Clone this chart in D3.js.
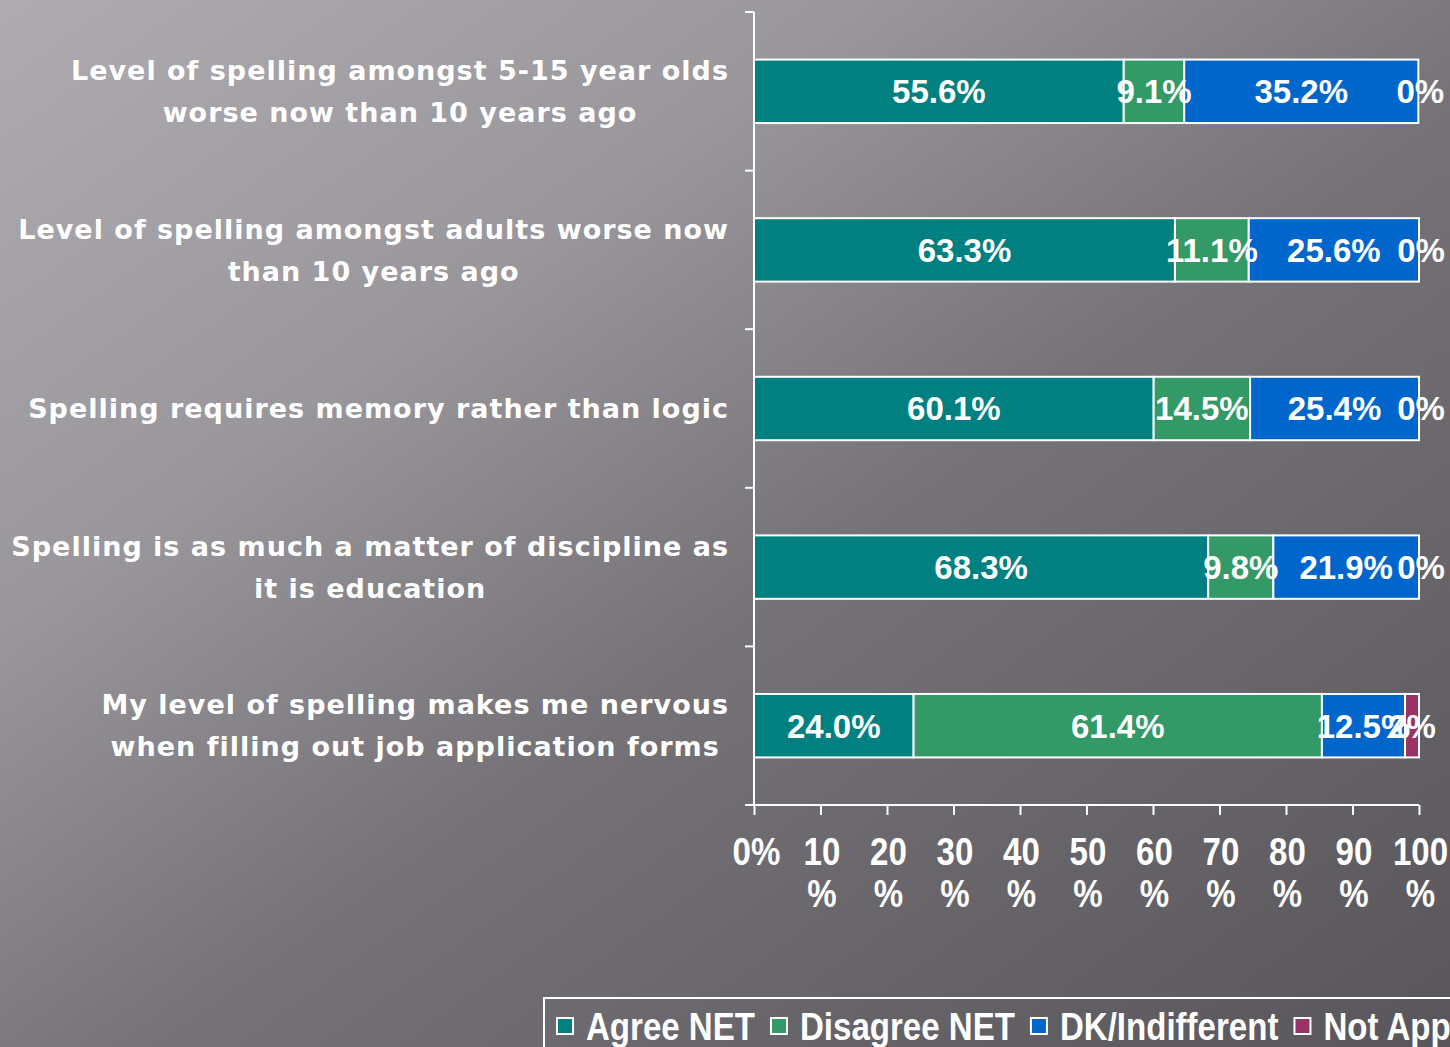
<!DOCTYPE html>
<html>
<head>
<meta charset="utf-8">
<script src="https://cdn.jsdelivr.net/npm/d3@7"></script>
<style>
  html, body { margin: 0; padding: 0; overflow: hidden; }
  svg { display: block; }
</style>
</head>
<body>
<div id="app"></div>
<script>
const categories = [
  ["Level of spelling amongst 5-15 year olds", "worse now than 10 years ago"],
  ["Level of spelling amongst adults worse now", "than 10 years ago"],
  ["Spelling requires memory rather than logic"],
  ["Spelling is as much a matter of discipline as", "it is education"],
  ["My level of spelling makes me nervous", "when filling out job application forms"]
];
const seriesNames = ["Agree NET", "Disagree NET", "DK/Indifferent", "Not Applicable"];
const agree = [55.6, 63.3, 60.1, 68.3, 24.0];
const disagree = [9.1, 11.1, 14.5, 9.8, 61.4];
const dk = [35.2, 25.6, 25.4, 21.9, 12.5];
const notApplicable = [0, 0, 0, 0, 2.1];
const xTicks = [0, 10, 20, 30, 40, 50, 60, 70, 80, 90, 100];
const colors = ["#008080", "#339966", "#0066cc", "#993366"];

const W = 1450, H = 1047;
const plotL = 754, plotR = 1419, plotT = 12, plotB = 805;
const narrowFont = 'bold 38px "Liberation Sans", Arial, sans-serif';

const svg = d3.select('#app').append('svg')
  .attr('width', W).attr('height', H);

// background
const defs = svg.append('defs');
const g1 = defs.append('linearGradient').attr('id', 'bg')
  .attr('x1', '0').attr('y1', '0').attr('x2', '1').attr('y2', '1');
[[0, '#aeabb1'], [0.3, '#99969c'], [0.55, '#757278'], [1, '#58565a']]
  .forEach(s => g1.append('stop').attr('offset', s[0]).attr('stop-color', s[1]));
svg.append('rect').attr('width', W).attr('height', H).attr('fill', 'url(#bg)');

const rows = categories.map((c, i) => ({
  label: c,
  vals: [agree[i], disagree[i], dk[i], notApplicable[i]]
}));

const x = d3.scaleLinear().domain([0, 100]).range([plotL, plotR]);
const y = d3.scaleBand().domain(d3.range(rows.length)).range([plotT, plotB])
  .paddingInner(0.6).paddingOuter(0.3);

// bars
const fmt = v => v < 5 ? Math.round(v) + '%' : v.toFixed(1) + '%';
rows.forEach((r, i) => {
  let acc = 0;
  const segs = r.vals.map((v, k) => { const s = { k, v, x0: acc, x1: acc + v }; acc += v; return s; });
  const g = svg.append('g');
  g.selectAll('rect').data(segs).enter().append('rect')
    .attr('x', d => x(d.x0))
    .attr('y', y(i))
    .attr('width', d => x(d.x1) - x(d.x0))
    .attr('height', y.bandwidth())
    .attr('fill', d => colors[d.k])
    .attr('stroke', '#fff').attr('stroke-width', 2);
  g.selectAll('text').data(segs).enter().append('text')
    .attr('x', d => x((d.x0 + d.x1) / 2) + (d.v === 0 ? 2 : 0))
    .attr('y', y(i) + y.bandwidth() / 2)
    .attr('dy', '0.36em')
    .attr('text-anchor', 'middle')
    .attr('fill', '#fff')
    .style('font', 'bold 33px "Liberation Sans", Arial, sans-serif')
    .text(d => fmt(d.v));
});

// y axis
svg.append('line').attr('x1', plotL).attr('x2', plotL).attr('y1', plotT).attr('y2', plotB)
  .attr('stroke', '#fff').attr('stroke-width', 2);
d3.range(rows.length + 1).forEach(i => {
  const yy = plotT + i * y.step();
  svg.append('line').attr('x1', plotL - 9).attr('x2', plotL).attr('y1', yy).attr('y2', yy)
    .attr('stroke', '#fff').attr('stroke-width', 2);
});

// category labels
rows.forEach((r, i) => {
  const cy = y(i) + y.bandwidth() / 2;
  const lh = 42;
  const t = svg.append('g');
  const texts = r.label.map((line, j) => t.append('text')
    .attr('y', cy + (j - (r.label.length - 1) / 2) * lh)
    .attr('dy', '0.36em')
    .attr('text-anchor', 'middle')
    .attr('fill', '#fff')
    .style('font', 'bold 27px "DejaVu Sans", sans-serif')
    .style('letter-spacing', '1px')
    .text(line));
  const maxW = d3.max(texts, tx => tx.node().getComputedTextLength());
  texts.forEach(tx => tx.attr('x', 729 - maxW / 2));
});

// x axis
const xAxis = svg.append('g').attr('transform', `translate(0,${plotB})`)
  .call(d3.axisBottom(x).tickValues(xTicks).tickSize(10).tickSizeOuter(0).tickFormat(''));
xAxis.select('.domain').attr('stroke', '#fff').attr('stroke-width', 2).attr('d', `M${plotL - 9},0H${plotR}`);
xAxis.selectAll('.tick line').attr('stroke', '#fff').attr('stroke-width', 2);
xAxis.selectAll('.tick').each(function (d) {
  const lines = d === 0 ? ['0%'] : [String(d), '%'];
  const tg = d3.select(this);
  lines.forEach((ln, j) => tg.append('g')
    .attr('transform', `translate(${d === 0 ? 2 : 1},${46 + j * 42}) scale(0.87,1)`)
    .append('text')
    .attr('dy', '0.36em')
    .attr('text-anchor', 'middle')
    .attr('fill', '#fff')
    .style('font', narrowFont)
    .text(ln));
});

// legend
svg.append('rect').attr('x', 544).attr('y', 998).attr('width', 1000).attr('height', 80)
  .attr('fill', 'none').attr('stroke', '#fff').attr('stroke-width', 2);
let lx = 557;
seriesNames.forEach((name, k) => {
  svg.append('rect').attr('x', lx).attr('y', 1018).attr('width', 16).attr('height', 16)
    .attr('fill', colors[k]).attr('stroke', '#fff').attr('stroke-width', 2);
  const tx = svg.append('g')
    .attr('transform', `translate(${lx + 29},1026) scale(0.87,1)`)
    .append('text').attr('dy', '0.36em')
    .attr('fill', '#fff')
    .style('font', narrowFont)
    .text(name);
  lx += 29 + tx.node().getComputedTextLength() * 0.87 + 16;
});
</script>
</body>
</html>
